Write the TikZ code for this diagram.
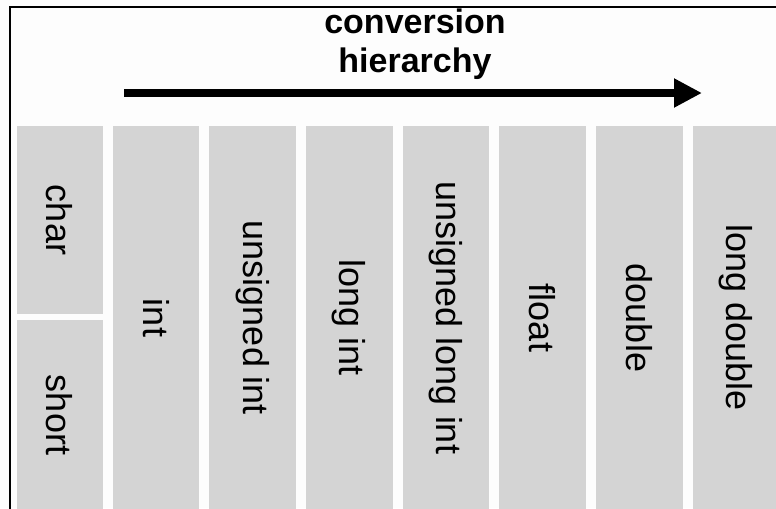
\documentclass[tikz,border=0pt]{standalone}
\usepackage{fontspec}
\setmainfont{Liberation Sans}
\usetikzlibrary{arrows.meta}
\definecolor{cellgray}{RGB}{212,212,212}
\definecolor{paper}{RGB}{253,253,253}
\begin{document}
\begin{tikzpicture}[x=0.75pt,y=-0.75pt,
  typebox/.style={rotate=-90,fill=cellgray,inner sep=0pt,
    font=\fontsize{27pt}{31pt}\selectfont,anchor=center},
  tallbox/.style={typebox,minimum width=288pt,minimum height=64.95pt},
  frameline/.style={line width=1.6pt,black},
  rankarrow/.style={line width=6pt,-{Triangle[length=21pt,width=20.5pt]}}]
  \useasboundingbox (0,0) rectangle (776,508);
  \fill[paper] (0,0) rectangle (776,508);

  % outer frame (left and top edges)
  \coordinate (frameBL) at (10,512);
  \coordinate (frameTL) at (10,7);
  \coordinate (frameTR) at (780,7);
  \draw[frameline] (frameBL) -- (frameTL) -- (frameTR);

  % title (anchored on the baseline of its last line) and direction arrow
  \node[font=\bfseries\fontsize{25.5pt}{29pt}\selectfont,align=center,anchor=base]
    (title) at (415,72) {conversion\\hierarchy};
  \coordinate (arrowL) at (124,93);
  \coordinate (arrowR) at (702,93);
  \draw[rankarrow] (arrowL) -- (arrowR);

  % the smallest types share the first column
  \node[typebox,minimum width=141pt,minimum height=64.5pt] (char) at (59.7,220) {char};
  \node[typebox,minimum width=142.5pt,minimum height=64.5pt] (short) at (59.7,415) {short};

  % remaining types, in increasing rank
  \node[tallbox] (int)     at (156.0,318) {int};
  \node[tallbox] (uint)    at (252.7,318) {unsigned int};
  \node[tallbox] (lint)    at (349.3,318) {long int};
  \node[tallbox] (ulint)   at (446.0,318) {unsigned long int};
  \node[tallbox] (float)   at (542.7,318) {float};
  \node[tallbox] (double)  at (639.3,318) {double};
  \node[tallbox] (ldouble) at (736.0,318) {long double};
\end{tikzpicture}
\end{document}
